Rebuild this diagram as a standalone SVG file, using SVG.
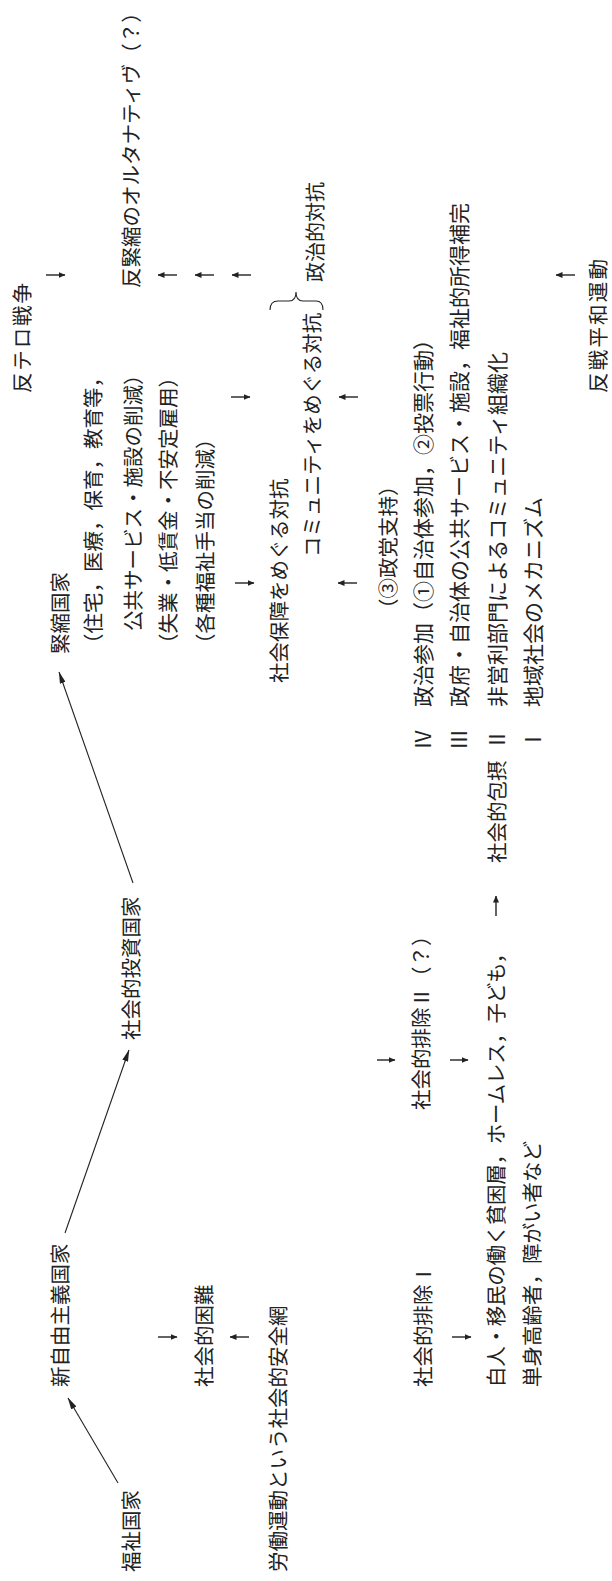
<svg xmlns="http://www.w3.org/2000/svg" width="612" height="1581" viewBox="0 0 612 1581">
<style>
text{font-family:"Noto Sans CJK JP","Noto Sans CJK SC",sans-serif;font-size:20.5px;fill:#222}
.b{font-size:21px}
.c{stroke:#222;stroke-width:1.4;fill:none}
.d{stroke:#222;stroke-width:1.1;fill:none}
</style>
<defs>
<marker id="s" viewBox="0 0 7 6" markerWidth="7" markerHeight="6" refX="6.5" refY="3" orient="auto" markerUnits="userSpaceOnUse"><path d="M0,0L7,3L0,6z" fill="#222"/></marker>
<marker id="L" viewBox="0 0 12 6" markerWidth="12" markerHeight="6" refX="11.5" refY="3" orient="auto" markerUnits="userSpaceOnUse"><path d="M0,0L12,3L0,6z" fill="#222"/></marker>
</defs>
<rect width="612" height="1581" fill="#fff"/>
<g transform="translate(0,1581) rotate(-90)">
<g id="n-fukushi"><text x="9" y="139">福祉国家</text></g>
<g id="n-shinjiyu"><text x="194" y="68">新自由主義国家</text></g>
<g id="n-konnan"><text x="194" y="212">社会的困難</text></g>
<g id="n-rodo"><text x="9" y="286">労働運動という社会的安全網</text></g>
<g id="n-haijo1"><text x="194" y="431">社会的排除Ⅰ</text></g>
<g id="n-hakujin"><text x="194" y="504" textLength="444">白人・移民の働く貧困層，ホームレス，子ども，</text><text x="194" y="540">単身高齢者，障がい者など</text></g>
<g id="n-toshi"><text x="541" y="139">社会的投資国家</text></g>
<g id="n-haijo2"><text x="471" y="429">社会的排除Ⅱ（？）</text></g>
<g id="n-hosetsu"><text x="718" y="505">社会的包摂</text></g>
<g id="n-kinshuku"><text x="927" y="68">緊縮国家</text>
<text x="927" y="101">（住宅，医療，保育，教育等，</text>
<text x="950" y="141">公共サービス・施設の削減）</text>
<text x="927" y="176">（失業・低賃金・不安定雇用）</text>
<text x="927" y="213">（各種福祉手当の削減）</text></g>
<g id="n-shakaihosho"><text x="898" y="287">社会保障をめぐる対抗</text></g>
<g id="n-community"><text x="1024" y="320">コミュニティをめぐる対抗</text></g>
<g id="n-seitou"><text x="962" y="396">（③政党支持）</text></g>
<g id="n-levels" class="b">
<text class="b" x="831" y="431">Ⅳ</text><text class="b" x="874" y="431">政治参加（①自治体参加，②投票行動）</text>
<text class="b" x="831" y="467">Ⅲ</text><text class="b" x="874" y="467">政府・自治体の公共サービス・施設，福祉的所得補完</text>
<text class="b" x="831" y="505">Ⅱ</text><text class="b" x="874" y="505">非営利部門によるコミュニティ組織化</text>
<text class="b" x="831" y="541">Ⅰ</text><text class="b" x="874" y="541">地域社会のメカニズム</text>
</g>
<g id="n-seiji"><path class="d" d="M1271,270C1277,270 1280,272 1280,278L1280,289C1280,294 1283,296 1289,296C1283,296 1280,298 1280,303L1280,316C1280,321 1277,323 1271,323"/><text x="1299" y="323" style="font-size:20px">政治的対抗</text></g>
<g id="n-hantero"><text x="1188" y="30" textLength="110">反テロ戦争</text></g>
<g id="n-hankinshuku"><text x="1293" y="139">反緊縮のオルタナティヴ（？）</text></g>
<g id="n-hansen"><text x="1188" y="606" textLength="134">反戦平和運動</text></g>
<g id="connectors">
<path class="d" marker-end="url(#L)" d="M98,118L183,68"/>
<path class="d" marker-end="url(#L)" d="M348,65L531,129"/>
<path class="d" marker-end="url(#L)" d="M698,133L909,59"/>
<path class="c" marker-end="url(#s)" d="M244,158V177"/>
<path class="c" marker-end="url(#s)" d="M244,249V230"/>
<path class="c" marker-end="url(#s)" d="M244,452V471"/>
<path class="c" marker-end="url(#s)" d="M521,377V395"/>
<path class="c" marker-end="url(#s)" d="M521,450V468"/>
<path class="c" marker-end="url(#s)" d="M665,496H685"/>
<path class="c" marker-end="url(#s)" d="M998,235V254"/>
<path class="c" marker-end="url(#s)" d="M998,357V338"/>
<path class="c" marker-end="url(#s)" d="M1184,231V250"/>
<path class="c" marker-end="url(#s)" d="M1184,358V339"/>
<path class="c" marker-end="url(#s)" d="M1306,46V65"/>
<path class="c" marker-end="url(#s)" d="M1306,177V158"/>
<path class="c" marker-end="url(#s)" d="M1306,214V195"/>
<path class="c" marker-end="url(#s)" d="M1306,251V232"/>
<path class="c" marker-end="url(#s)" d="M1306,575V556"/>
</g>
</g>
</svg>
